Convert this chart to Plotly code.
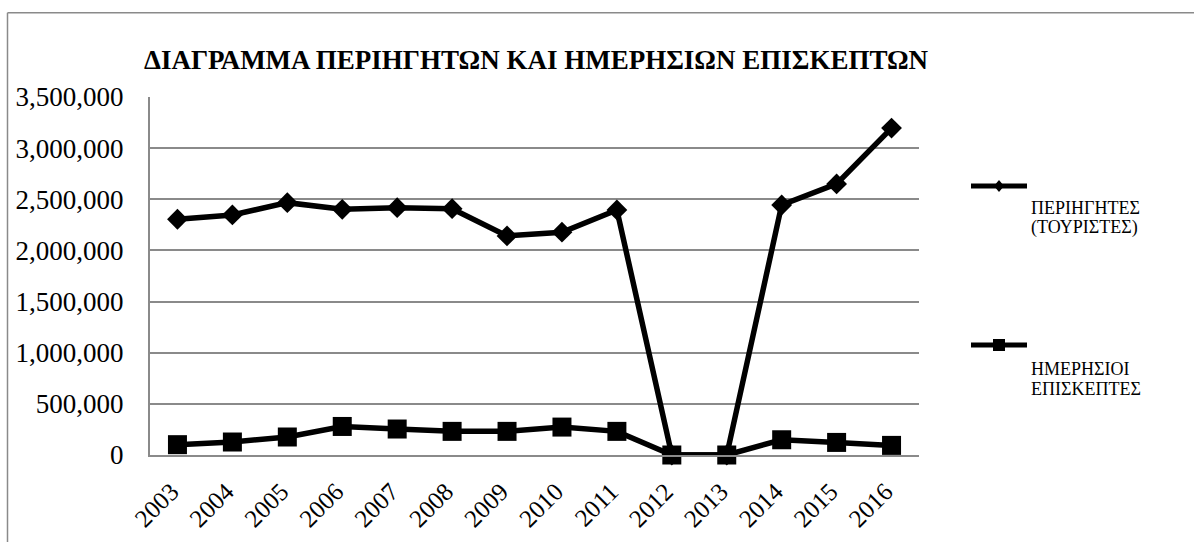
import plotly.graph_objects as go

years = ["2003", "2004", "2005", "2006", "2007", "2008", "2009", "2010",
         "2011", "2012", "2013", "2014", "2015", "2016"]
tourists = [2305000, 2347000, 2467000, 2402000, 2418000, 2408000, 2142000,
            2178000, 2396000, 0, 0, 2444000, 2650000, 3196000]
day_visitors = [101000, 127000, 176000, 279000, 254000, 231000, 231000,
                273000, 231000, 0, 0, 149000, 123000, 94000]
series_names = ["ΠΕΡΙΗΓΗΤΕΣ (ΤΟΥΡΙΣΤΕΣ)", "ΗΜΕΡΗΣΙΟΙ ΕΠΙΣΚΕΠΤΕΣ"]
legend_lines = [["ΠΕΡΙΗΓΗΤΕΣ", "(ΤΟΥΡΙΣΤΕΣ)"], ["ΗΜΕΡΗΣΙΟΙ", "ΕΠΙΣΚΕΠΤΕΣ"]]
title_text = "ΔΙΑΓΡΑΜΜΑ ΠΕΡΙΗΓΗΤΩΝ ΚΑΙ ΗΜΕΡΗΣΙΩΝ ΕΠΙΣΚΕΠΤΩΝ"
y_ticks = [0, 500000, 1000000, 1500000, 2000000, 2500000, 3000000, 3500000]

W, H = 1194, 542
# plot area in page pixels
L, R, T, B = 150, 919, 97, 455

FONT = "Liberation Serif"
GRID = "#8a8a8a"

fig = go.Figure()
fig.add_trace(go.Scatter(
    x=years, y=tourists, mode="lines+markers", name=series_names[0],
    line=dict(color="black", width=5.5),
    marker=dict(symbol="diamond", size=16, color="black"),
    cliponaxis=False, showlegend=False))
fig.add_trace(go.Scatter(
    x=years, y=day_visitors, mode="lines+markers", name=series_names[1],
    line=dict(color="black", width=5.5),
    marker=dict(symbol="square", size=19, color="black"),
    cliponaxis=False, showlegend=False))

def px(x):
    return (x - L) / (R - L)

def py(y):
    return (B - y) / (B - T)

shapes = []
annotations = []
# outer chart border (left and top)
shapes.append(dict(type="line", xref="paper", yref="paper",
                   x0=px(7.5), x1=px(7.5), y0=py(12.7), y1=py(560),
                   line=dict(color=GRID, width=1.5)))
shapes.append(dict(type="line", xref="paper", yref="paper",
                   x0=px(7.5), x1=px(1210), y0=py(12.7), y1=py(12.7),
                   line=dict(color=GRID, width=1.5)))

# custom legend (symbol line above, text below-right, as in the source)
leg = [(186, "diamond", legend_lines[0], 208.5), (345, "square", legend_lines[1], 370)]
for ly, sym, lines, ty in leg:
    shapes.append(dict(type="line", xref="paper", yref="paper",
                       x0=px(971), x1=px(1027), y0=py(ly), y1=py(ly),
                       line=dict(color="black", width=5)))
    cx = 999
    if sym == "diamond":
        sx, sy = 5, 6
        path = (f"M {px(cx-sx)},{py(ly)} L {px(cx)},{py(ly-sy)} "
                f"L {px(cx+sx)},{py(ly)} L {px(cx)},{py(ly+sy)} Z")
        shapes.append(dict(type="path", xref="paper", yref="paper", path=path,
                           fillcolor="black", line=dict(color="black", width=0)))
    else:
        s = 6
        shapes.append(dict(type="rect", xref="paper", yref="paper",
                           x0=px(cx-s), x1=px(cx+s), y0=py(ly+s), y1=py(ly-s),
                           fillcolor="black", line=dict(color="black", width=0)))
    for i, line_text in enumerate(lines):
        annotations.append(dict(xref="paper", yref="paper", x=px(1029), y=py(ty + i * 19.5 - 1),
                                xanchor="left", yanchor="middle", align="left",
                                text=line_text, showarrow=False,
                                font=dict(family=FONT, size=18, color="black")))

annotations.append(dict(xref="paper", yref="paper", x=px(536), y=py(60),
                        xanchor="center", yanchor="middle", text="<b>" + title_text + "</b>",
                        showarrow=False, font=dict(family=FONT, size=27, color="black")))

fig.update_layout(
    width=W, height=H,
    margin=dict(l=L, r=W - R, t=T, b=H - B, pad=0),
    paper_bgcolor="white", plot_bgcolor="white",
    font=dict(family=FONT, color="black"),
    shapes=shapes, annotations=annotations,
    showlegend=False,
)
fig.update_xaxes(
    type="category", range=[-0.5, 13.5], tickangle=-45, automargin=False,
    tickfont=dict(family=FONT, size=25, color="black"),
    showline=True, linecolor=GRID, linewidth=2,
    showgrid=False, ticks="", ticklen=0,
    ticklabelstandoff=10, ticklabelshift=-6,
)
fig.update_yaxes(
    range=[0, 3500000], tickvals=y_ticks, tickformat=",d", automargin=False,
    tickfont=dict(family=FONT, size=27, color="black"),
    showline=True, linecolor=GRID, linewidth=2,
    showgrid=True, gridcolor=GRID, gridwidth=1.8,
    zeroline=False, ticks="", ticklen=0, ticklabelstandoff=19,
)

fig.write_html("out.html", config={"displayModeBar": False},
               post_script="document.body.style.margin='0px';")
